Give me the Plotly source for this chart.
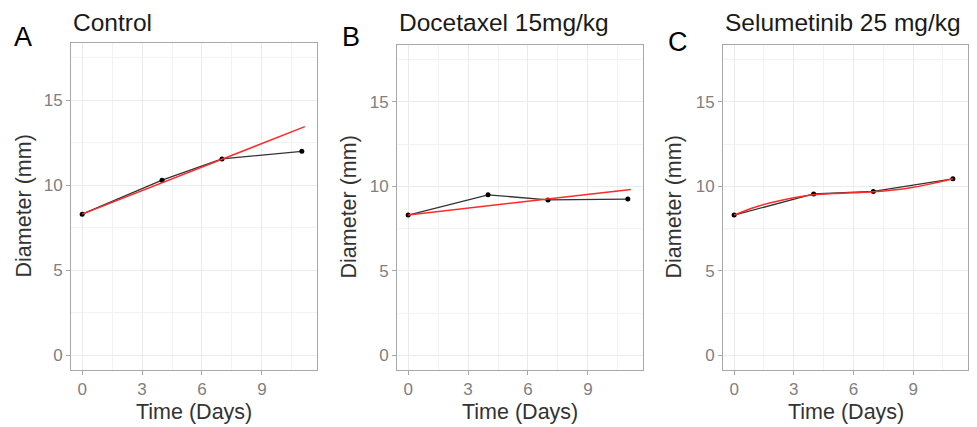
import plotly.graph_objects as go

W, H = 977, 427

panel_titles = ["Control", "Docetaxel 15mg/kg", "Selumetinib 25 mg/kg"]
panel_letters = ["A", "B", "C"]

days = [0, 4, 7, 11]
control_diam = [8.3, 10.3, 11.55, 12.0]
docetaxel_diam = [8.3, 9.5, 9.2, 9.25]
selumetinib_diam = [8.3, 9.55, 9.7, 10.45]

control_fit_x = [0, 11.15]
control_fit_y = [8.3, 13.45]
docetaxel_fit_x = [0, 11.15]
docetaxel_fit_y = [8.3, 9.82]
selumetinib_fit_x = [0, 1, 2, 3, 4, 5, 6, 7, 8, 9, 10, 11]
selumetinib_fit_y = [8.3, 8.75, 9.08, 9.33, 9.5, 9.58, 9.63, 9.68, 9.78, 9.95, 10.18, 10.45]

x_ticks = [0, 3, 6, 9]
y_ticks = [0, 5, 10, 15]

series = [
    (days, control_diam, control_fit_x, control_fit_y),
    (days, docetaxel_diam, docetaxel_fit_x, docetaxel_fit_y),
    (days, selumetinib_diam, selumetinib_fit_x, selumetinib_fit_y),
]

# panel pixel boxes: left, right, top, bottom
boxes = [(71, 317, 43, 370), (397, 643, 45, 370), (723, 968, 45, 370)]
letter_pos = [(23, 37), (351, 37), (678, 42)]
ytitle_x = [23, 348, 673]

FONT = "Liberation Sans, Arial, sans-serif"
fig = go.Figure()
annotations = []

for i, ((xd, yd, fx, fy), (l, r, t, b)) in enumerate(zip(series, boxes)):
    xa = "x" if i == 0 else f"x{i+1}"
    ya = "y" if i == 0 else f"y{i+1}"
    fig.add_trace(go.Scatter(x=xd, y=yd, mode="lines+markers", xaxis=xa, yaxis=ya,
                             line=dict(color="#333333", width=1.3),
                             marker=dict(color="black", size=5), showlegend=False))
    fig.add_trace(go.Scatter(x=fx, y=fy, mode="lines", xaxis=xa, yaxis=ya,
                             line=dict(color="#ff2a2a", width=1.5, shape="spline"),
                             showlegend=False))
    common = dict(showline=True, mirror=True, linecolor="#a8a8a8", linewidth=1,
                  showgrid=True, gridcolor="#ebebeb", gridwidth=1, zeroline=False,
                  ticks="outside", ticklen=4, tickcolor="#a8a8a8",
                  tickfont=dict(family=FONT, size=17, color="#808080"))
    xkey = "xaxis" if i == 0 else f"xaxis{i+1}"
    ykey = "yaxis" if i == 0 else f"yaxis{i+1}"
    fig.update_layout({
        xkey: dict(domain=[l / W, r / W], anchor=ya, range=[-0.56, 11.76],
                   tickvals=x_ticks,
                   minor=dict(tick0=1.5, dtick=3, showgrid=True, gridcolor="#f2f2f2", ticks=""),
                   **common),
        ykey: dict(domain=[1 - b / H, 1 - t / H], anchor=xa, range=[-0.875, 18.375],
                   tickvals=y_ticks,
                   minor=dict(tick0=2.5, dtick=5, showgrid=True, gridcolor="#f2f2f2", ticks=""),
                   **common),
    })
    annotations.append(dict(text=panel_titles[i], x=l / W, y=1 - 22 / H, xref="paper", yref="paper",
                            xanchor="left", yanchor="middle", showarrow=False,
                            font=dict(family=FONT, size=24.5, color="#1a1a1a")))
    lx, ly = letter_pos[i]
    annotations.append(dict(text=panel_letters[i], x=lx / W, y=1 - ly / H, xref="paper", yref="paper",
                            xanchor="center", yanchor="middle", showarrow=False,
                            font=dict(family=FONT, size=27, color="black")))
    annotations.append(dict(text="Time (Days)", x=(l + r) / 2 / W, y=1 - 412 / H, xref="paper", yref="paper",
                            xanchor="center", yanchor="middle", showarrow=False,
                            font=dict(family=FONT, size=21.5, color="#333333")))
    annotations.append(dict(text="Diameter (mm)", x=ytitle_x[i] / W, y=1 - (t + b) / 2 / H,
                            xref="paper", yref="paper", textangle=-90,
                            xanchor="center", yanchor="middle", showarrow=False,
                            font=dict(family=FONT, size=21.5, color="#333333")))

fig.update_layout(width=W, height=H, margin=dict(l=0, r=0, t=0, b=0),
                  paper_bgcolor="white", plot_bgcolor="white",
                  annotations=annotations, showlegend=False)

fig.write_html("out.html")
